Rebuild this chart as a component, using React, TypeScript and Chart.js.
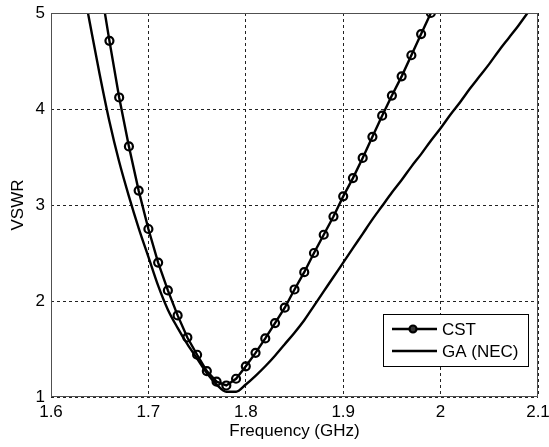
import React, { useEffect, useRef } from 'react';
import { Chart, registerables } from 'chart.js';

Chart.register(...registerables);

const seriesLabels = ['CST', 'GA (NEC)'];

const cstFreq = [
  1.65, 1.66, 1.67, 1.68, 1.69, 1.70, 1.71, 1.72, 1.73, 1.74, 1.75, 1.76,
  1.77, 1.78, 1.79, 1.80, 1.81, 1.82, 1.83, 1.84, 1.85, 1.86, 1.87, 1.88,
  1.89, 1.90, 1.91, 1.92, 1.93, 1.94, 1.95, 1.96, 1.97, 1.98, 1.99,
];
const cstVswr = [
  5.33, 4.71, 4.12, 3.61, 3.15, 2.75, 2.40, 2.11, 1.85, 1.62, 1.44, 1.27,
  1.16, 1.12, 1.19, 1.32, 1.46, 1.61, 1.77, 1.93, 2.12, 2.30, 2.50, 2.69,
  2.88, 3.09, 3.28, 3.49, 3.71, 3.93, 4.14, 4.34, 4.56, 4.78, 5.00,
];

const gaFreq = [
  1.63, 1.64, 1.65, 1.66, 1.67, 1.68, 1.69, 1.70, 1.71, 1.72, 1.73, 1.74,
  1.75, 1.76, 1.77, 1.78, 1.79, 1.80, 1.81, 1.82, 1.83, 1.84, 1.85, 1.86,
  1.87, 1.88, 1.89, 1.90, 1.91, 1.92, 1.93, 1.94, 1.95, 1.96, 1.97, 1.98,
  1.99, 2.00, 2.01, 2.02, 2.03, 2.04, 2.05, 2.06, 2.07, 2.08, 2.09, 2.10,
];
const gaVswr = [
  5.43, 4.89, 4.36, 3.87, 3.45, 3.09, 2.76, 2.46, 2.16, 1.91, 1.72, 1.55,
  1.40, 1.25, 1.13, 1.055, 1.055, 1.13, 1.22, 1.32, 1.43, 1.55, 1.67, 1.80,
  1.95, 2.10, 2.25, 2.40, 2.55, 2.70, 2.85, 2.99, 3.13, 3.26, 3.40, 3.53,
  3.67, 3.80, 3.94, 4.07, 4.21, 4.34, 4.47, 4.61, 4.74, 4.87, 5.01, 5.15,
];

const xTickValues = [1.6, 1.7, 1.8, 1.9, 2.0, 2.1];
const xTickLabels = ['1.6', '1.7', '1.8', '1.9', '2', '2.1'];
const yTickValues = [1, 2, 3, 4, 5];
const yTickLabels = ['1', '2', '3', '4', '5'];

const FONT = 'Liberation Sans, Arial, Helvetica, sans-serif';

const framePlugin = {
  id: 'frame',
  afterDraw(chart: any) {
    const { ctx, chartArea } = chart;
    ctx.save();
    ctx.strokeStyle = '#505050';
    ctx.lineWidth = 1;
    ctx.setLineDash([]);
    ctx.strokeRect(
      Math.round(chartArea.left) + 0.5,
      Math.round(chartArea.top) + 0.5,
      Math.round(chartArea.right - chartArea.left) - 1,
      Math.round(chartArea.bottom - chartArea.top) - 1
    );
    ctx.restore();
  },
};

const legendPlugin = {
  id: 'boxLegend',
  afterDraw(chart: any) {
    const { ctx } = chart;
    const ds = chart.data.datasets;
    const bx = 383.5, by = 314.5, bw = 145, bh = 52;
    ctx.save();
    ctx.fillStyle = '#ffffff';
    ctx.fillRect(bx, by, bw, bh);
    ctx.strokeStyle = '#000000';
    ctx.lineWidth = 1;
    ctx.strokeRect(bx, by, bw, bh);
    const rows = [329, 351];
    ds.forEach((d: any, i: number) => {
      const y = rows[i];
      ctx.strokeStyle = d.borderColor;
      ctx.lineWidth = d.borderWidth;
      ctx.beginPath();
      ctx.moveTo(392, y);
      ctx.lineTo(437, y);
      ctx.stroke();
      if (d.pointRadius > 0) {
        ctx.beginPath();
        ctx.lineWidth = d.pointBorderWidth;
        ctx.arc(413, y, d.pointRadius - 0.5, 0, Math.PI * 2);
        ctx.fillStyle = '#333333';
        ctx.fill();
        ctx.stroke();
      }
      ctx.fillStyle = '#000000';
      ctx.font = `17px ${FONT}`;
      ctx.textBaseline = 'middle';
      ctx.textAlign = 'left';
      ctx.fillText(d.label, 442, y + 1);
    });
    ctx.restore();
  },
};

export default function App() {
  const canvasRef = useRef<HTMLCanvasElement | null>(null);

  useEffect(() => {
    const canvas = canvasRef.current;
    if (!canvas) return;
    const chart = new Chart(canvas, {
      type: 'line',
      data: {
        datasets: [
          {
            label: seriesLabels[0],
            data: cstFreq.map((f, i) => ({ x: f, y: cstVswr[i] })),
            borderColor: '#000000',
            borderWidth: 2.4,
            pointRadius: 4,
            pointBorderWidth: 2.2,
            pointBackgroundColor: 'rgba(0,0,0,0)',
            pointBorderColor: '#000000',
            tension: 0,
            clip: 0,
          },
          {
            label: seriesLabels[1],
            data: gaFreq.map((f, i) => ({ x: f, y: gaVswr[i] })),
            borderColor: '#000000',
            borderWidth: 2.4,
            pointRadius: 0,
            pointBorderWidth: 0,
            cubicInterpolationMode: 'monotone',
            clip: 0,
          },
        ],
      },
      options: {
        responsive: false,
        animation: false,
        devicePixelRatio: 1,
        layout: { padding: { top: 13, right: 11, left: 0, bottom: 0 } },
        plugins: {
          legend: { display: false },
          tooltip: { enabled: false },
        },
        scales: {
          x: {
            type: 'linear',
            min: 1.6,
            max: 2.1,
            afterBuildTicks(scale: any) {
              scale.ticks = xTickValues.map((v) => ({ value: v }));
            },
            afterFit(scale: any) {
              scale.height = 50;
              scale.paddingLeft = 0;
              scale.paddingRight = 0;
            },
            ticks: {
              maxRotation: 0,
              autoSkip: false,
              padding: 5,
              color: '#000000',
              font: { family: FONT, size: 17 },
              callback: (v: any) => {
                const idx = xTickValues.findIndex((t) => Math.abs(t - v) < 1e-6);
                return idx >= 0 ? xTickLabels[idx] : '';
              },
            },
            grid: {
              drawTicks: false,
              color: '#222222',
              lineWidth: 1,
            },
            border: { display: false, dash: [3, 3] },
            title: {
              display: true,
              text: 'Frequency (GHz)',
              color: '#000000',
              font: { family: FONT, size: 17 },
              padding: { top: 0, bottom: 5 },
            },
          },
          y: {
            type: 'linear',
            min: 1,
            max: 5,
            afterBuildTicks(scale: any) {
              scale.ticks = yTickValues.map((v) => ({ value: v }));
            },
            afterFit(scale: any) {
              scale.width = 51;
              scale.paddingTop = 0;
              scale.paddingBottom = 0;
            },
            ticks: {
              autoSkip: false,
              padding: 6,
              color: '#000000',
              font: { family: FONT, size: 17 },
              callback: (v: any) => {
                const idx = yTickValues.findIndex((t) => Math.abs(t - v) < 1e-6);
                return idx >= 0 ? yTickLabels[idx] : '';
              },
            },
            grid: {
              drawTicks: false,
              color: '#222222',
              lineWidth: 1,
            },
            border: { display: false, dash: [3, 3] },
            title: {
              display: true,
              text: 'VSWR',
              color: '#000000',
              font: { family: FONT, size: 17 },
              padding: { top: 8, bottom: 0 },
            },
          },
        },
      },
      plugins: [framePlugin, legendPlugin],
    } as any);
    return () => chart.destroy();
  }, []);

  return (
    <div style={{ position: 'absolute', left: 0, top: 0, width: 549, height: 447, background: '#ffffff' }}>
      <canvas ref={canvasRef} width={549} height={447} style={{ display: 'block', width: 549, height: 447 }} />
    </div>
  );
}
